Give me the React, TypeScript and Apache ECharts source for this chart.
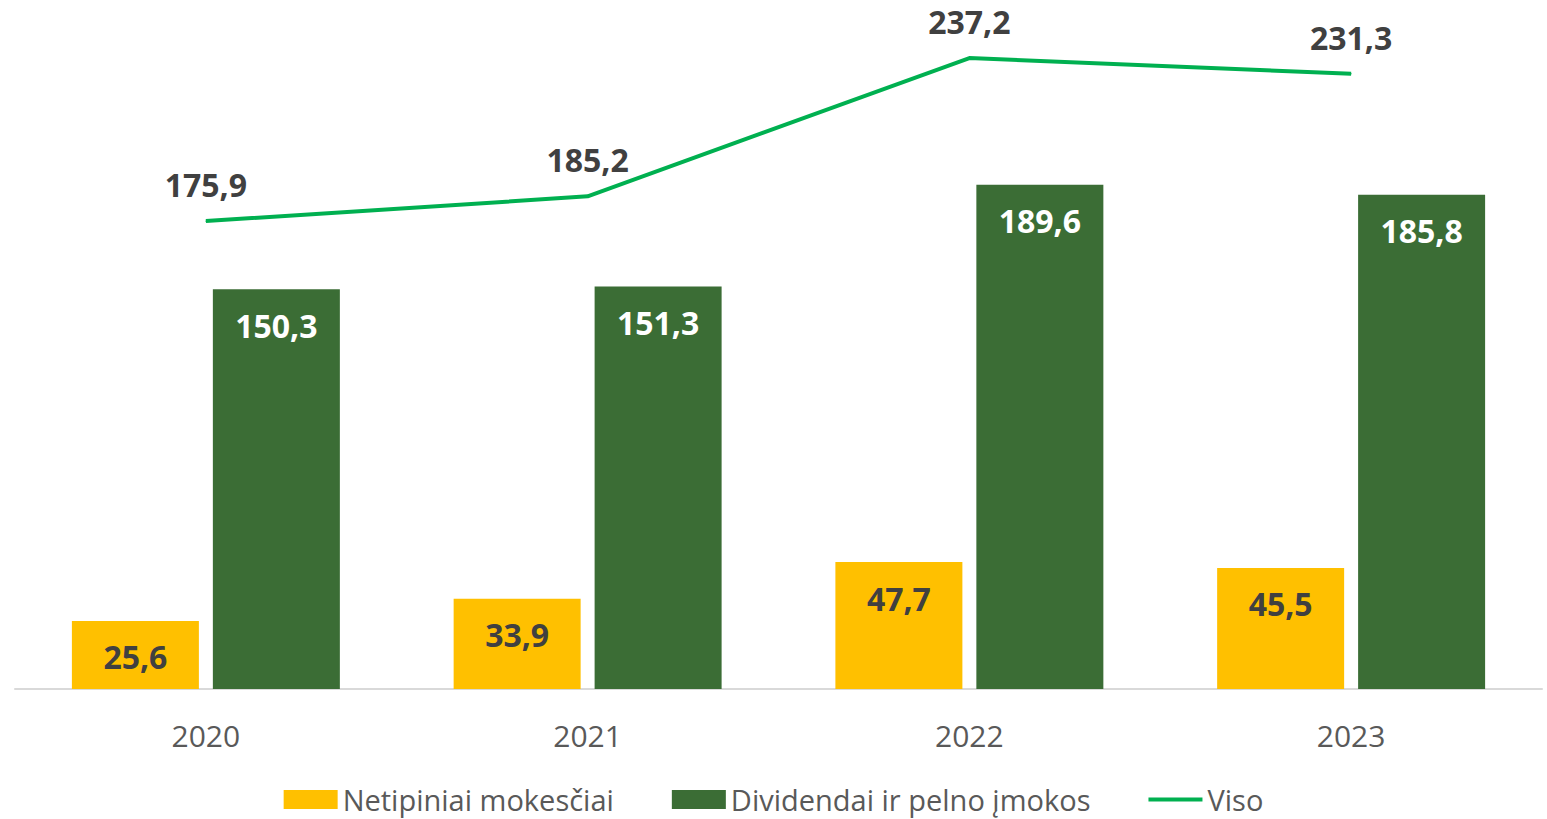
import React, { useEffect, useRef } from "react";
import * as echarts from "echarts";

const categories = ["2020", "2021", "2022", "2023"];
const netipiniai = [25.6, 33.9, 47.7, 45.5];
const dividendai = [150.3, 151.3, 189.6, 185.8];
const viso = [175.9, 185.2, 237.2, 231.3];
const seriesNames = ["Netipiniai mokesčiai", "Dividendai ir pelno įmokos", "Viso"];

const FONT = "'Open Sans', 'Noto Sans', sans-serif";
const fmt = (p: any) => Number(p.value).toFixed(1).replace(".", ",");

export default function App() {
  const ref = useRef<HTMLDivElement>(null);
  useEffect(() => {
    if (!ref.current) return;
    const chart = echarts.init(ref.current, undefined, { renderer: "svg" });
    chart.setOption({
      animation: false,
      backgroundColor: "#ffffff",
      textStyle: { fontFamily: FONT },
      grid: { left: 15, right: 5, top: 24, bottom: 130, containLabel: false },
      legend: {
        data: [
          { name: seriesNames[0], icon: "rect" },
          { name: seriesNames[1], icon: "rect" },
          { name: seriesNames[2], icon: "path://M0,0H56V4H0Z" },
        ],
        left: "center",
        top: 780,
        itemWidth: 54,
        itemHeight: 19,
        itemGap: 58,
        textStyle: { fontFamily: FONT, fontSize: 29, lineHeight: 29, color: "#595959" },
      },
      xAxis: {
        type: "category",
        data: categories,
        axisLine: { show: true, lineStyle: { color: "#D9D9D9", width: 2 } },
        axisTick: { show: false },
        axisLabel: { fontFamily: FONT, fontSize: 30, color: "#595959", margin: 31 },
      },
      yAxis: {
        type: "value",
        min: 0,
        max: 250,
        interval: 50,
        show: false,
        splitLine: { show: false },
      },
      series: [
        {
          name: seriesNames[0],
          type: "bar",
          data: netipiniai,
          barWidth: 127,
          barGap: "11%",
          itemStyle: { color: "#FFC000" },
          label: {
            show: true,
            position: "insideTop",
            distance: 20,
            formatter: fmt,
            fontFamily: FONT,
            fontWeight: "bold",
            fontSize: 32,
            color: "#404040",
          },
        },
        {
          name: seriesNames[1],
          type: "bar",
          data: dividendai,
          barWidth: 127,
          barGap: "11%",
          itemStyle: { color: "#3B6D35" },
          label: {
            show: true,
            position: "insideTop",
            distance: 20,
            formatter: fmt,
            fontFamily: FONT,
            fontWeight: "bold",
            fontSize: 32,
            color: "#FFFFFF",
          },
        },
        {
          name: seriesNames[2],
          type: "line",
          data: viso,
          symbol: "circle",
          symbolSize: 1,
          showSymbol: true,
          lineStyle: { color: "#00B050", width: 4 },
          itemStyle: { color: "#00B050" },
          label: {
            show: true,
            position: "top",
            distance: 20,
            formatter: fmt,
            fontFamily: FONT,
            fontWeight: "bold",
            fontSize: 32,
            color: "#404040",
          },
        },
      ],
    });
    return () => chart.dispose();
  }, []);
  return (
    <div
      ref={ref}
      style={{ position: "fixed", left: 0, top: 0, width: 1547, height: 819 }}
    />
  );
}
